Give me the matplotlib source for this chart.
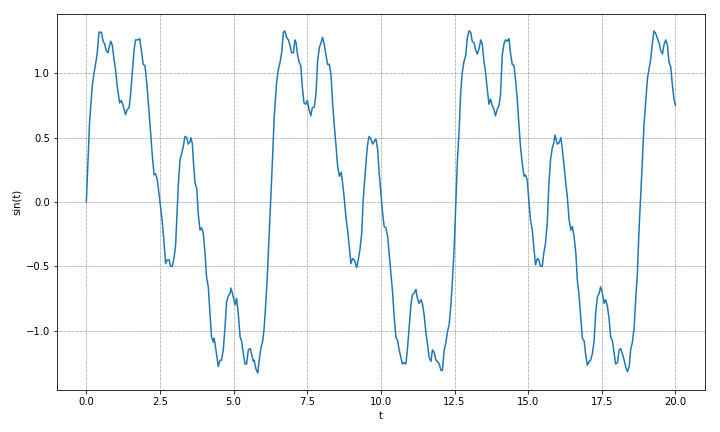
import matplotlib
matplotlib.use("Agg")
import matplotlib.pyplot as plt

# values
t = [0.0, 0.06, 0.11, 0.2, 0.26, 0.34, 0.37, 0.43, 0.51, 0.57, 0.62, 0.67, 0.74, 0.77, 0.83, 0.88,
     0.94, 0.99, 1.05, 1.13, 1.19, 1.26, 1.33, 1.39, 1.45, 1.50, 1.56, 1.62, 1.67, 1.75, 1.81, 1.88,
     1.93, 1.99, 2.05, 2.13, 2.18, 2.24, 2.30, 2.35, 2.41, 2.49, 2.58, 2.64, 2.69, 2.75, 2.81, 2.86,
     2.92, 2.98,
     3.03, 3.07, 3.12, 3.18, 3.24, 3.29, 3.35, 3.41, 3.46, 3.52, 3.55, 3.60, 3.63, 3.69, 3.75, 3.80,
     3.86, 3.91, 3.97, 4.03, 4.08, 4.14, 4.20, 4.25, 4.31, 4.34, 4.40, 4.48, 4.54, 4.59, 4.65, 4.71,
     4.76, 4.82, 4.88, 4.91, 4.97, 5.05, 5.10, 5.16, 5.22, 5.27, 5.33, 5.39, 5.44, 5.50, 5.56, 5.61,
     5.67, 5.70, 5.76, 5.82, 5.87, 5.93, 5.99, 6.04, 6.10, 6.15, 6.21, 6.27, 6.32, 6.38,
     6.46, 6.52, 6.58, 6.63, 6.69, 6.74, 6.80, 6.86, 6.91, 6.97, 7.03, 7.08, 7.12, 7.16, 7.22, 7.28,
     7.33, 7.39, 7.45, 7.50, 7.56, 7.62, 7.67, 7.74, 7.80, 7.85, 7.91, 7.97, 8.02, 8.08, 8.14, 8.19,
     8.25, 8.31, 8.36, 8.42, 8.48, 8.53, 8.59, 8.65, 8.70, 8.76, 8.81, 8.87, 8.93, 8.98, 9.04, 9.10,
     9.18, 9.23, 9.29, 9.35, 9.40, 9.46, 9.52,
     9.55, 9.60, 9.66, 9.72, 9.77, 9.83, 9.89, 9.94, 10.0, 10.06, 10.11, 10.17, 10.23, 10.28, 10.34,
     10.40, 10.45, 10.51, 10.57, 10.62, 10.68, 10.73, 10.79, 10.85, 10.90, 10.96, 11.02, 11.07,
     11.13, 11.19, 11.24, 11.30, 11.36, 11.41, 11.47, 11.53, 11.58, 11.64, 11.70, 11.75, 11.81,
     11.87, 11.92, 11.98, 12.04, 12.09, 12.15, 12.21, 12.26, 12.32, 12.38, 12.43, 12.49, 12.55,
     12.60, 12.66,
     12.71, 12.76, 12.82, 12.88, 12.93, 12.99, 13.05, 13.10, 13.16, 13.22, 13.27, 13.33, 13.39,
     13.44, 13.50, 13.55, 13.61, 13.67, 13.72, 13.78, 13.84, 13.89, 13.95, 14.01, 14.06, 14.12,
     14.18, 14.23, 14.29, 14.35, 14.40, 14.46, 14.52, 14.57, 14.63, 14.69, 14.74, 14.80, 14.86,
     14.91, 14.97, 15.03, 15.08, 15.14, 15.20, 15.25, 15.31, 15.36, 15.42, 15.48, 15.53, 15.59,
     15.65, 15.70, 15.76, 15.82, 15.87, 15.91,
     15.99, 16.05, 16.11, 16.16, 16.22, 16.28, 16.33, 16.39, 16.45, 16.50, 16.56, 16.62, 16.67,
     16.73, 16.79, 16.84, 16.90, 16.95, 17.01, 17.07, 17.12, 17.18, 17.24, 17.29, 17.35, 17.41,
     17.46, 17.52, 17.58, 17.63, 17.69, 17.75, 17.80, 17.86, 17.92, 17.97, 18.03, 18.09, 18.14,
     18.20, 18.26, 18.31, 18.37, 18.43, 18.48, 18.54, 18.60, 18.65, 18.71, 18.76, 18.82, 18.88,
     18.93, 18.99, 19.05, 19.10, 19.16, 19.22, 19.27, 19.33, 19.39, 19.44, 19.50, 19.56, 19.61,
     19.67, 19.73, 19.78, 19.84, 19.90, 19.95, 20.0]

y = [0.0, 0.33, 0.62, 0.9, 1.0, 1.11, 1.16, 1.32, 1.32, 1.25, 1.23, 1.18, 1.16, 1.20, 1.25, 1.22,
     1.11, 1.03, 0.90, 0.77, 0.79, 0.74, 0.68, 0.72, 0.73, 0.83, 1.01, 1.18, 1.26, 1.26, 1.27, 1.16,
     1.07, 1.06, 0.93, 0.70, 0.54, 0.36, 0.21, 0.22, 0.17, 0.02, -0.16, -0.32, -0.48, -0.45, -0.45,
     -0.50, -0.50, -0.43,
     -0.34, -0.14, 0.12, 0.33, 0.38, 0.43, 0.51, 0.50, 0.45, 0.47, 0.50, 0.45, 0.33, 0.15, 0.10,
     -0.09, -0.22, -0.20, -0.24, -0.40, -0.58, -0.66, -0.87, -1.05, -1.09, -1.06, -1.15, -1.28,
     -1.23, -1.23, -1.15, -0.97, -0.78, -0.73, -0.71, -0.67, -0.72, -0.80, -0.75, -0.87, -1.05,
     -1.08, -1.18, -1.26, -1.26, -1.15, -1.14, -1.18, -1.24, -1.23, -1.30, -1.33, -1.23, -1.13,
     -1.08, -0.97, -0.76, -0.55, -0.24, 0.07, 0.33, 0.67,
     0.93, 1.03, 1.09, 1.16, 1.32, 1.33, 1.28, 1.26, 1.22, 1.16, 1.16, 1.26, 1.24, 1.16, 1.09, 1.06,
     0.90, 0.77, 0.76, 0.79, 0.72, 0.67, 0.73, 0.74, 0.85, 1.09, 1.20, 1.24, 1.28, 1.22, 1.14, 1.07,
     1.07, 0.98, 0.77, 0.59, 0.43, 0.28, 0.20, 0.23, 0.15, 0.02, -0.11, -0.22, -0.35, -0.48, -0.44,
     -0.45, -0.51, -0.45, -0.37, -0.24, 0.02, 0.20, 0.38,
     0.45, 0.51, 0.49, 0.45, 0.47, 0.49, 0.41, 0.23, 0.07, -0.09, -0.19, -0.20, -0.27, -0.40, -0.55,
     -0.71, -0.89, -1.05, -1.08, -1.15, -1.21, -1.26, -1.25, -1.26, -1.15, -0.97, -0.80, -0.72,
     -0.71, -0.68, -0.75, -0.79, -0.76, -0.79, -0.88, -1.02, -1.10, -1.21, -1.24, -1.15, -1.17,
     -1.23, -1.24, -1.26, -1.31, -1.31, -1.15, -1.09, -1.01, -0.95, -0.79, -0.61, -0.35, 0.02,
     0.33, 0.57,
     0.85, 1.0, 1.09, 1.14, 1.27, 1.33, 1.32, 1.25, 1.24, 1.18, 1.15, 1.19, 1.26, 1.23, 1.09, 1.02,
     0.88, 0.76, 0.80, 0.75, 0.72, 0.67, 0.72, 0.75, 0.83, 1.14, 1.23, 1.26, 1.25, 1.27, 1.16, 1.07,
     1.06, 0.95, 0.80, 0.59, 0.43, 0.30, 0.20, 0.21, 0.17, -0.01, -0.14, -0.22, -0.37, -0.49, -0.44,
     -0.45, -0.50, -0.50, -0.40, -0.32, -0.16, 0.12, 0.33, 0.42, 0.46, 0.52,
     0.45, 0.46, 0.50, 0.41, 0.28, 0.14, 0.04, -0.14, -0.22, -0.19, -0.27, -0.40, -0.61, -0.73,
     -0.91, -1.06, -1.08, -1.18, -1.27, -1.24, -1.23, -1.18, -1.08, -0.87, -0.74, -0.71, -0.66,
     -0.71, -0.79, -0.76, -0.81, -0.91, -1.05, -1.08, -1.18, -1.26, -1.25, -1.15, -1.14, -1.18,
     -1.23, -1.28, -1.32, -1.28, -1.15, -1.09, -0.97, -0.76, -0.55, -0.24, 0.04, 0.33, 0.59, 0.77,
     0.96, 1.03, 1.11, 1.24, 1.33, 1.31, 1.27, 1.24, 1.18, 1.15, 1.22, 1.26, 1.22, 1.09, 1.05, 0.90,
     0.80, 0.75]

fig, ax = plt.subplots(figsize=(10, 6), dpi=72)
ax.plot(t, y, color='#1f77b4', linewidth=1.5)
ax.set_xlabel('t')
ax.set_ylabel('sin(t)')
ax.set_xticks([0.0, 2.5, 5.0, 7.5, 10.0, 12.5, 15.0, 17.5, 20.0])
ax.grid(color='k', linestyle=':', linewidth=0.5)

fig.subplots_adjust(left=0.079, right=0.979, top=0.968, bottom=0.097)
fig.savefig('out.png', dpi=72)
